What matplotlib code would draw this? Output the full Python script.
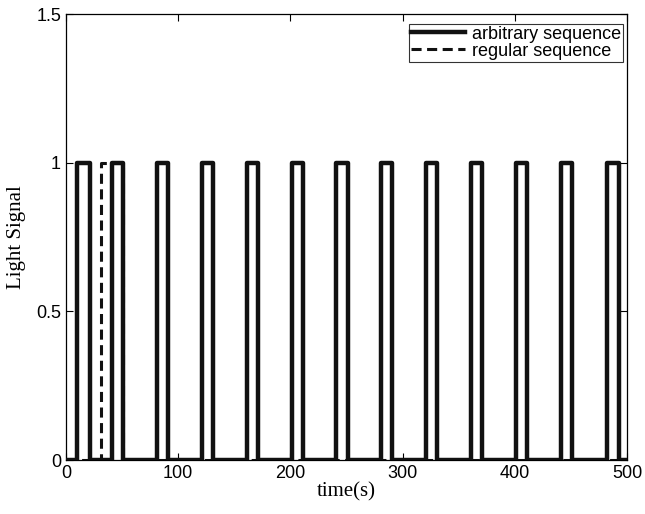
import numpy as np
import matplotlib.pyplot as plt

# pulse edges (s)
arb_on = [10, 41, 81, 121, 161, 201, 241, 281, 321, 361, 401, 441, 482]
arb_off = [21, 51, 91, 131, 171, 211, 251, 291, 331, 371, 411, 451, 493]
reg_on = [31]
reg_off = [51]
t_end = 500


def square_wave(on, off, t_end):
    t = [0]
    y = [0]
    for a, b in zip(on, off):
        t += [a, a, b, b]
        y += [0, 1, 1, 0]
    t.append(t_end)
    y.append(0)
    return t, y


plt.rcParams['font.family'] = ['Liberation Sans', 'DejaVu Sans']

fig = plt.figure(figsize=(6.45, 5.14), dpi=100)
ax = fig.add_axes([0.1023, 0.105, 0.8698, 0.8675])

t1, y1 = square_wave(arb_on, arb_off, t_end)
t2, y2 = square_wave(reg_on, reg_off, t_end)

ax.plot(t2, y2, color='#111111', lw=2.2, ls=(0, (3.3, 1.8)),
        label='regular sequence', zorder=2)
ax.plot(t1, y1, color='#111111', lw=3.2, solid_joinstyle='round',
        label='arbitrary sequence', zorder=3)

ax.set_xlim(0, 500)
ax.set_ylim(0, 1.5)
ax.set_xticks([0, 100, 200, 300, 400, 500])
ax.set_yticks([0, 0.5, 1, 1.5])
ax.set_yticklabels(['0', '0.5', '1', '1.5'])
ax.tick_params(direction='in', top=True, right=True, labelsize=13, length=5,
               width=0.8)
for s in ax.spines.values():
    s.set_linewidth(0.9)

ax.set_xlabel('time(s)', family='Liberation Serif', fontsize=15, labelpad=0)
ax.set_ylabel('Light Signal', family='Liberation Serif', fontsize=15, labelpad=7)

h, l = ax.get_legend_handles_labels()
leg = ax.legend(h[::-1], l[::-1], loc='upper right',
                bbox_to_anchor=(0.993, 0.978), borderaxespad=0,
                fontsize=13, frameon=True, fancybox=False,
                edgecolor='black', handlelength=3.0, handletextpad=0.4,
                borderpad=0.1, labelspacing=0.0)
leg.get_frame().set_linewidth(0.8)

fig.savefig('out.png', dpi=100)
